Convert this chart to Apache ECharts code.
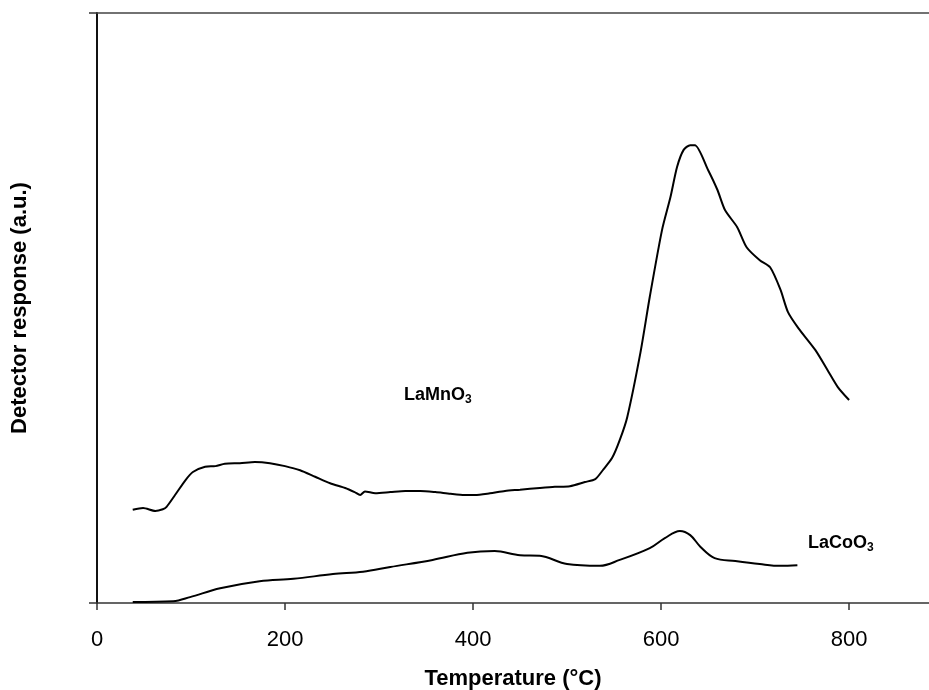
<!DOCTYPE html>
<html>
<head>
<meta charset="utf-8">
<script src="https://cdn.jsdelivr.net/npm/echarts@6/dist/echarts.min.js"></script>
<style>
html,body{margin:0;padding:0;background:#fff;}
#main{width:929px;height:690px;}
</style>
</head>
<body>
<div id="main"></div>
<script>
// temperature (°C) and detector response (a.u., 0-100 scale)
var mnTemp = [38, 49, 62, 70, 74, 83, 94, 102, 115, 126, 136, 152, 168, 184, 200, 216, 232, 248, 264, 274, 280, 285, 296, 312, 328, 344, 360, 376, 391, 402, 418, 434, 450, 471, 487, 503, 519, 530, 538, 548, 556, 564, 578, 588, 601, 610, 617, 624, 631, 636, 650, 660, 668, 681, 691, 705, 716, 727, 735, 746, 764, 777, 788, 800];
var mnResp = [15.8, 16.1, 15.6, 15.9, 16.3, 18.3, 20.8, 22.2, 23.1, 23.2, 23.6, 23.7, 23.9, 23.7, 23.2, 22.5, 21.4, 20.3, 19.5, 18.8, 18.3, 18.9, 18.6, 18.8, 19.0, 19.0, 18.8, 18.5, 18.3, 18.3, 18.6, 19.0, 19.2, 19.5, 19.7, 19.8, 20.5, 21.0, 22.5, 24.6, 27.6, 31.5, 42.4, 51.9, 63.2, 68.8, 73.9, 76.8, 77.6, 77.6, 73.4, 70.0, 66.6, 63.7, 60.3, 58.1, 56.9, 53.1, 49.3, 46.6, 42.9, 39.5, 36.6, 34.4];

var coTemp = [38, 81, 99, 131, 173, 209, 251, 283, 312, 357, 394, 423, 450, 471, 500, 535, 556, 588, 604, 620, 631, 642, 657, 679, 705, 727, 745];
var coResp = [0.17, 0.3, 1.0, 2.5, 3.7, 4.1, 4.9, 5.3, 6.1, 7.3, 8.5, 8.8, 8.1, 8.0, 6.6, 6.3, 7.3, 9.3, 11.0, 12.2, 11.5, 9.5, 7.6, 7.1, 6.6, 6.3, 6.4];

var xTicks = [0, 200, 400, 600, 800];

function pairs(xs, ys) {
	var out = [];
	for (var i = 0; i < xs.length; i++) {
		out.push([xs[i], ys[i]]);
	}
	return out;
}

var myChart = echarts.init(document.getElementById('main'));

var subLabel = {
	b: { fontSize: 18, fontWeight: 'bold', fontFamily: 'Liberation Sans', fill: '#000' },
	s: { fontSize: 12, fontWeight: 'bold', fontFamily: 'Liberation Sans', fill: '#000', padding: [10, 0, 0, 0] }
};

var option = {
	backgroundColor: '#fff',
	animation: false,
	grid: {
		left: 97,
		right: 0,
		top: 13,
		bottom: 87,
		containLabel: false,
		outerBoundsMode: 'none'
	},
	xAxis: [{
		type: 'value',
		min: 0,
		max: 885,
		name: 'Temperature (°C)',
		nameLocation: 'middle',
		nameGap: 65,
		nameTextStyle: {
			color: '#000',
			fontSize: 22,
			fontWeight: 'bold',
			fontFamily: 'Liberation Sans'
		},
		splitLine: { show: false },
		axisLine: { lineStyle: { color: '#333', width: 1.5 } },
		axisTick: {
			length: 7,
			customValues: xTicks,
			lineStyle: { color: '#333', width: 1.5 }
		},
		axisLabel: {
			customValues: xTicks,
			margin: 26,
			color: '#000',
			fontSize: 22,
			fontFamily: 'Liberation Sans'
		}
	}, {
		type: 'value',
		position: 'top',
		min: 0,
		max: 885,
		splitLine: { show: false },
		axisLine: { onZero: false, lineStyle: { color: '#444', width: 1.5 } },
		axisTick: { show: false },
		axisLabel: { show: false }
	}],
	yAxis: {
		type: 'value',
		min: 0,
		max: 100,
		interval: 100,
		name: 'Detector response (a.u.)',
		nameLocation: 'middle',
		nameGap: 66,
		nameTextStyle: {
			color: '#000',
			fontSize: 22,
			fontWeight: 'bold',
			fontFamily: 'Liberation Sans'
		},
		splitLine: { show: false },
		axisLine: { lineStyle: { color: '#111', width: 2 } },
		axisTick: { length: 8, lineStyle: { color: '#333', width: 1.5 } },
		axisLabel: { show: false }
	},
	series: [{
		name: 'LaMnO3',
		type: 'line',
		data: pairs(mnTemp, mnResp),
		showSymbol: false,
		smooth: 0.25,
		lineStyle: { color: '#000', width: 2 }
	}, {
		name: 'LaCoO3',
		type: 'line',
		data: pairs(coTemp, coResp),
		showSymbol: false,
		smooth: 0.35,
		lineStyle: { color: '#000', width: 2 }
	}],
	graphic: [{
		type: 'text',
		left: 404,
		top: 386,
		style: { text: '{b|LaMnO}{s|3}', rich: subLabel }
	}, {
		type: 'text',
		left: 808,
		top: 534,
		style: { text: '{b|LaCoO}{s|3}', rich: subLabel }
	}]
};

myChart.setOption(option);
</script>
</body>
</html>
